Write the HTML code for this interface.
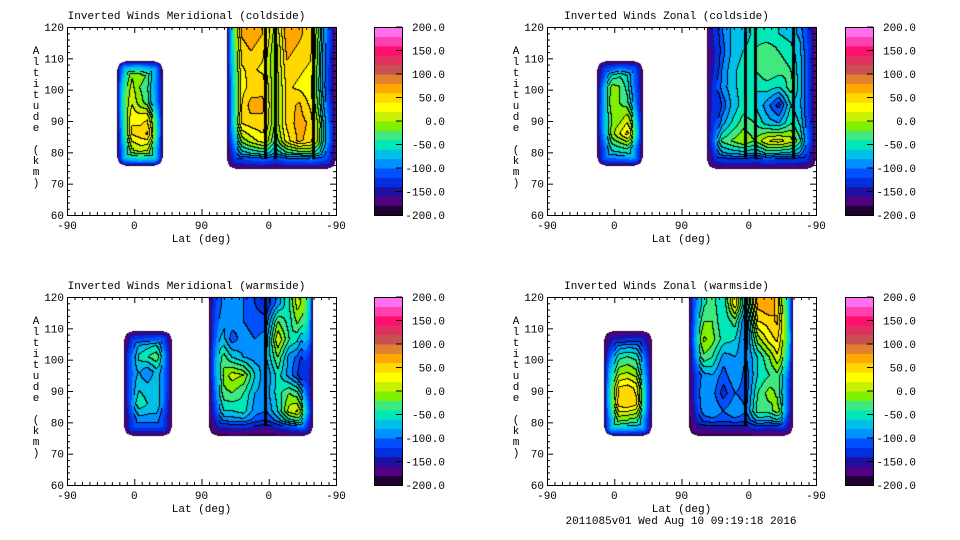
<!DOCTYPE html>
<html><head><meta charset="utf-8">
<style>
body{margin:0;background:#fff;width:960px;height:540px;overflow:hidden;position:relative;font-family:"Liberation Mono",monospace;}
canvas{position:absolute;left:0;top:0;}
svg{position:absolute;left:0;top:0;}
text{font-family:"Liberation Mono",monospace;font-size:11px;fill:#000;}
</style></head>
<body>
<canvas id="cv" width="960" height="540"></canvas>
<svg id="sv" width="960" height="540"></svg>
<script>
// ---- data ----
const colorLevels = ['#200030','#500080','#2010a0','#0030e0','#0050ff','#0090ff','#00c0e8','#00e8b8','#40e880','#80f000','#c8f000','#ffff00','#ffd800','#ffa800','#e08030','#c85050','#e03060','#ff1070','#ff40b0','#ff70f0'];
const cbarTicks = [200,150,100,50,0,-50,-100,-150,-200];
const xTickLabels = ['-90','0','90','0','-90'];
const yTicks = [60,70,80,90,100,110,120];
const titles = ['Inverted Winds Meridional (coldside)','Inverted Winds Zonal (coldside)','Inverted Winds Meridional (warmside)','Inverted Winds Zonal (warmside)'];
const leftRows = [106,101,96,91,86,81];
const rightRows = [118,112,106,100,94,88,82,78];
// region extents: [uStart,uEnd,altBottom,altTop]
const regionsTop = [[67,127,76,109],[214,358,75,120]];
const regionsBot = [[76,139,76,109],[190,328,76,120]];
const gapsTop = [265,279,329,352];
const gapsBot = [265];
const tlLeft = [[-20,-10,0,-30,-40],[50,20,-20,-40,-30],[70,30,-10,-40,-20],[30,40,30,40,20],[10,40,50,70,20],[-30,-10,10,0,-20]];
const tlRight = [[70,60,75,60,-10,75,65,50,-60,-80],[45,45,60,45,-20,65,55,45,-70,-90],[25,35,45,35,-20,55,45,35,-70,-100],[10,30,45,55,-20,45,35,25,-70,-110],[0,30,70,65,-20,45,65,35,-60,-90],[10,40,50,55,-20,45,70,55,-40,-70],[-40,-20,10,30,-40,30,65,50,-40,-60],[-100,-100,-90,-80,-100,-80,-80,-70,-90,-100]];
const trLeft = [[-100,-80,-50,-70,-80],[-40,-10,-20,-60,-70],[-30,0,-20,-40,-60],[0,-20,-10,20,-30],[-30,-20,20,60,-10],[-80,-60,-50,-40,-60]];
const trRight = [[-100,-110,-80,-80,-50,-60,-60,-70,-90,-100],[-110,-120,-80,-60,-40,-20,-40,-50,-80,-100],[-110,-110,-70,-50,-40,-20,-30,-40,-80,-100],[-80,-100,-70,-50,-60,-50,-60,-30,-80,-100],[-70,-130,-80,-50,-60,-90,-130,-60,-80,-100],[-60,-100,-60,-30,-40,-70,-80,-40,-70,-90],[-70,-40,-20,0,-20,20,30,10,-50,-80],[-120,-110,-100,-100,-110,-90,-100,-100,-110,-120]];
const blLeft = [[-120,-90,-80,-70,-100],[-40,-60,-40,-20,-60],[-50,-70,-100,-60,-60],[-60,-60,-70,-60,-60],[-70,-40,-60,-60,-70],[-100,-90,-90,-90,-100]];
const blRight = [[-60,-90,-100,-100,-120,-140,-90,-40,30,110],[-50,-80,-90,-100,-110,-110,-20,-50,0,90],[-40,-60,-110,-90,-100,-90,20,-40,-60,60],[-30,-20,-60,-80,-90,-80,-20,-90,-110,-30],[-30,-20,10,0,-60,-100,-50,-90,-130,-60],[-60,-30,-20,-40,-80,-90,-50,-20,-40,-60],[-90,-60,-60,-50,-90,-100,-60,10,30,-20],[-140,-130,-120,-120,-130,-140,-120,-100,-80,-100]];
const brLeft = [[-130,-120,-110,-110,-120],[-40,-50,-40,-50,-70],[20,-10,0,-20,-40],[30,40,50,30,-30],[30,50,60,40,-30],[-20,-10,-20,-30,-60]];
const brRight = [[-40,-50,-30,-60,40,-80,70,80,40,60],[-40,-20,-20,-60,-30,-110,40,50,70,60],[-30,10,-10,-50,-60,-110,-10,30,50,90],[-60,-20,-40,-90,-80,-100,-60,-20,30,40],[-90,-90,-80,-110,-80,-110,-60,-40,-20,-30],[-90,-80,-90,-130,-100,-110,-40,-10,-30,-40],[-110,-90,-80,-100,-80,-100,-30,-30,0,-70],[-150,-140,-130,-130,-130,-130,-110,-120,-110,-120]];

const panels = [
 {x0:67,y0:27,cb:374,grids:[tlLeft,tlRight],regs:regionsTop,gaps:gapsTop},
 {x0:547,y0:27,cb:845,grids:[trLeft,trRight],regs:regionsTop,gaps:gapsTop},
 {x0:67,y0:297,cb:374,grids:[blLeft,blRight],regs:regionsBot,gaps:gapsBot},
 {x0:547,y0:297,cb:845,grids:[brLeft,brRight],regs:regionsBot,gaps:gapsBot}
];
const PW=269, PH=188;
function xs(p,u){return p.x0+u*PW/360;}
function ys(p,a){return p.y0+PH-(a-60)*PH/60;}
function hex(c){return [parseInt(c.substr(1,2),16),parseInt(c.substr(3,2),16),parseInt(c.substr(5,2),16)];}
const rgb = colorLevels.map(hex);
function lvl(v){return Math.max(0,Math.min(19,Math.floor((v+200)/20)));}

// ---- fields ----
const ctx=document.getElementById('cv').getContext('2d');
const img=ctx.createImageData(960,540);
function setPx(x,y,c){const i=(y*960+x)*4;img.data[i]=c[0];img.data[i+1]=c[1];img.data[i+2]=c[2];img.data[i+3]=255;}
function sample(grid,rows,reg,u,a){
  const nc=grid[0].length;
  let cx=(u-reg[0])/(reg[1]-reg[0])*(nc-1); cx=Math.max(0,Math.min(nc-1.001,cx));
  const top=rows[0], bot=rows[rows.length-1];
  let ry=(top-a)/(top-bot)*(rows.length-1); ry=Math.max(0,Math.min(rows.length-1.001,ry));
  const i=Math.floor(cx),j=Math.floor(ry),fx=cx-i,fy=ry-j;
  const v00=grid[j][i],v01=grid[j][i+1],v10=grid[j+1][i],v11=grid[j+1][i+1];
  return (v00*(1-fx)+v01*fx)*(1-fy)+(v10*(1-fx)+v11*fx)*fy;
}
panels.forEach(p=>{
  p.regs.forEach((reg,ri)=>{
    const grid=p.grids[ri], rows= ri===0?leftRows:rightRows;
    const x1=Math.round(xs(p,reg[0])), x2=Math.round(xs(p,reg[1]));
    const yT=Math.round(Math.max(p.y0,ys(p,reg[3]))), yB=Math.round(ys(p,reg[2]));
    const topOpen = reg[3]>=120;
    const L=[],T=[];
    for(let y=yT;y<=yB;y++){L[y]=[];T[y]=[];for(let x=x1;x<=x2;x++){
      const r=8;
      let dx=Math.min(x-x1,x2-x), dy=Math.min(topOpen?99:y-yT,yB-y);
      let d;
      if(dx<r&&dy<r){d=r-Math.hypot(r-dx,r-dy);}else d=Math.min(dx,dy);
      if(d<0){L[y][x]=-1;continue;}
      const u=(x-p.x0)*360/PW, a=60+(p.y0+PH-y)*60/PH;
      let v=sample(grid,rows,reg,u,a);
      const t=Math.max(0,Math.min(1,d/15));
      v=-200+(v+200)*Math.sqrt(t);
      L[y][x]=lvl(v);T[y][x]=t;
    }}
    for(let y=yT;y<=yB;y++)for(let x=x1;x<=x2;x++){
      const l=L[y][x]; if(l<0)continue;
      let c=rgb[l];
      const r=L[y][x+1], b=L[y+1]?L[y+1][x]:undefined;
      if(T[y][x]>0.6 && ((r!==undefined&&r>=0&&r!==l)||(b!==undefined&&b>=0&&b!==l))) c=[0,0,0];
      setPx(x,y,c);
    }
    // gap lines
    p.gaps.forEach(g=>{ if(g<reg[0]||g>reg[1])return; const gx=Math.round(xs(p,g));
      for(let y=yT;y<=yB-8;y++)for(let k=-1;k<=1;k++){ if(L[y][gx+k]>=0 && T[y][gx+k]>0.6) setPx(gx+k,y,[0,0,0]); }});
  });
});
ctx.putImageData(img,0,0);

// ---- axes ----
const sv=document.getElementById('sv'); const NS='http://www.w3.org/2000/svg';
function el(tag,attrs,txt){const e=document.createElementNS(NS,tag);for(const k in attrs)e.setAttribute(k,attrs[k]);if(txt!==undefined)e.textContent=txt;sv.appendChild(e);return e;}
panels.forEach((p,pi)=>{
  const t=el('text',{x:p.x0+PW/2-15,y:p.y0-8,'text-anchor':'middle'},titles[pi]);
  
  
  const fr=el('rect',{x:p.x0+0.5,y:p.y0+0.5,width:PW,height:PH,fill:'none',stroke:'#000','stroke-width':1});
  
  
  for(let i=0;i<=36;i++){const x=p.x0+0.5+i*PW/36;const len=i%9===0?6:3;
    el('line',{x1:x,y1:p.y0+PH,x2:x,y2:p.y0+PH-len,stroke:'#000'});el('line',{x1:x,y1:p.y0,x2:x,y2:p.y0+len,stroke:'#000'});}
  xTickLabels.forEach((s,i)=>{const tl=el('text',{x:p.x0+i*PW/4,y:p.y0+PH+14,'text-anchor':'middle'},s);
    
    });
  for(let a=60;a<=120;a+=2){const y=ys(p,a)+0.5;const len=a%10===0?6:3;
    el('line',{x1:p.x0,y1:y,x2:p.x0+len,y2:y,stroke:'#000'});el('line',{x1:p.x0+PW,y1:y,x2:p.x0+PW-len,y2:y,stroke:'#000'});}
  yTicks.forEach(a=>{const tl=el('text',{x:p.x0-3,y:ys(p,a)+4,'text-anchor':'end'},String(a));
    
    });
  const xl=el('text',{x:p.x0+PW/2,y:p.y0+PH+27,'text-anchor':'middle'},'Lat (deg)');
  
  
  const yl=el('text',{x:p.x0-31,y:p.y0+27,'text-anchor':'middle'});
  
  
  'Altitude (km)'.split('').forEach((ch,k)=>{const ts=document.createElementNS(NS,'tspan');ts.setAttribute('x',p.x0-31);ts.setAttribute('y',p.y0+27+k*11);ts.textContent=ch;yl.appendChild(ts);});
  // colorbar
  const bh=PH/colorLevels.length;
  colorLevels.forEach((c,i)=>{const r=el('rect',{x:p.cb,y:p.y0+PH-(i+1)*bh,width:28,height:bh+0.5,fill:c});
    
    });
  el('rect',{x:p.cb+0.5,y:p.y0+0.5,width:28,height:PH,fill:'none',stroke:'#000'});
  cbarTicks.forEach(v=>{const y=p.y0+PH-(v+200)/400*PH;
    el('line',{x1:p.cb+22,y1:y,x2:p.cb+28,y2:y,stroke:'#000'});
    const tl=el('text',{x:p.cb+71,y:y+4,'text-anchor':'end'},v.toFixed(1));
    
    });
});
const ts=el('text',{x:681,y:524,'text-anchor':'middle'},'2011085v01 Wed Aug 10 09:19:18 2016');


</script>
</body></html>
